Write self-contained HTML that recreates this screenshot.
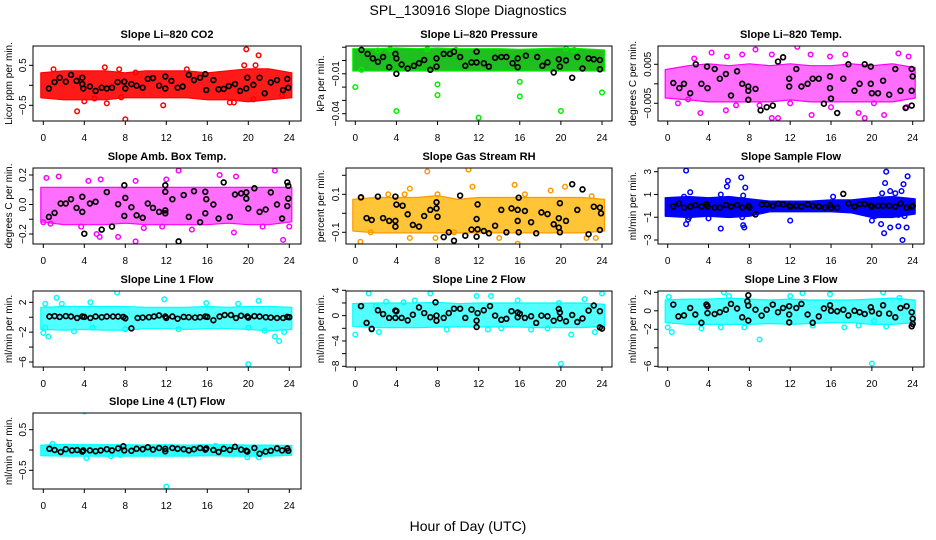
<!DOCTYPE html>
<html><head><meta charset="utf-8"><title>SPL_130916 Slope Diagnostics</title>
<style>
html,body{margin:0;padding:0;background:#fff;}
svg{display:block;font-family:"Liberation Sans",Arial,sans-serif;}
</style></head>
<body>
<svg id="chart" width="936" height="540" viewBox="0 0 936 540" xmlns="http://www.w3.org/2000/svg">
<rect width="936" height="540" fill="#fff"/>
<text x="468" y="15" font-size="14" text-anchor="middle">SPL_130916  Slope Diagnostics</text>
<text x="468" y="531" font-size="14" text-anchor="middle">Hour of Day (UTC)</text>
</svg>
<script>
// ---------- data (hours, values) ----------
const xTicks = [0,4,8,12,16,20,24];
const bandHours = [0,2,4,6,8,10,12,14,16,18,20,22,24];

// P1 CO2
const co2BandHi = [0.25,0.3,0.3,0.3,0.25,0.3,0.3,0.3,0.25,0.3,0.35,0.35,0.25];
const co2BandLo = [-0.25,-0.3,-0.3,-0.3,-0.25,-0.25,-0.25,-0.25,-0.3,-0.3,-0.35,-0.3,-0.25];
const co2Scatter = [[3.3,-0.65],[8,-0.85],[4,-0.4],[6.2,-0.45],[11.7,-0.5],[19.8,0.9],[21,0.75],[19.6,0.5],[20.7,0.5],[7.4,0.4],[18.2,-0.43],[18.6,-0.43],[5,-0.33],[7.6,-0.3],[14,0.4],[6,0.45],[1,0.4],[9,0.32],[20.5,-0.35],[23.3,-0.25]];
const co2Black = [[0.55,-0.08],[1.1,0.08],[1.6,0.19],[2.2,0.09],[2.7,0.26],[3.25,0.11],[3.8,0.19],[3.9,-0.08],[3.8,0.03],[4.55,-0.03],[5.1,-0.14],[5.7,-0.06],[6.2,-0.08],[6.7,-0.06],[7.25,0.08],[7.9,0.09],[8,-0.08],[8.6,0.03],[9.1,-0.01],[9.7,-0.06],[10.2,0.16],[10.7,0.18],[11.3,-0.01],[11.9,0.22],[11.9,-0.08],[12.5,0.11],[13.1,-0.06],[13.6,-0.03],[14.2,0.26],[14.7,0.13],[15.3,0.19],[15.8,0.28],[15.9,-0.12],[16.6,0.13],[17.1,-0.1],[17.6,-0.09],[18.1,-0.02],[18.7,0.03],[19.2,-0.14],[19.8,-0.08],[19.9,0.19],[20.5,0.01],[21.1,0.19],[21.6,-0.2],[22.2,0.07],[22.8,0.13],[23.4,-0.12],[23.8,0.16],[23.9,-0.06]];

// P2 Pressure
const presBandHi = [0.007,0.007,0.0075,0.007,0.0075,0.007,0.007,0.007,0.0065,0.007,0.0075,0.007,0.006];
const presBandLo = [-0.006,-0.006,-0.006,-0.006,-0.006,-0.006,-0.006,-0.006,-0.006,-0.006,-0.006,-0.006,-0.006];
const presScatter = [[0,-0.02],[4,-0.038],[8,-0.018],[8,-0.026],[12,-0.043],[16,-0.016],[16,-0.027],[20,-0.038],[24,-0.024],[3.4,0.0085],[7,0.0085],[20.5,0.009],[2.2,0.0075],[9.8,0.008],[0.6,-0.007],[21.3,0.008]];
const presBlack = [[0.6,0.008],[1.2,0.005],[1.7,0.0016],[2.2,-0.001],[2.7,0.0026],[3.3,-0.005],[3.9,0.005],[4,-0.01],[4,0.0016],[4.5,-0.003],[5.1,-0.006],[5.7,-0.004],[6.2,-0.002],[6.7,0.0004],[7.3,-0.007],[7.9,0.0016],[7.9,-0.0046],[8.6,0.005],[9.2,0.005],[9.6,0.0066],[10.2,0.0026],[10.7,-0.004],[11.3,-0.0014],[11.8,0.0066],[11.8,-0.0014],[12.5,-0.002],[13,-0.0046],[13.6,0.002],[14.2,0.0026],[14.7,0.0026],[15.3,-0.002],[15.8,0.0016],[15.8,-0.005],[16.6,0.0036],[17.7,0.0026],[18.2,-0.004],[18.7,-0.0014],[19.3,-0.009],[19.8,0.0009],[19.9,-0.0046],[20.5,0.0001],[21.1,-0.013],[21.6,0.0026],[22.1,-0.006],[22.7,0.0016],[23.2,0.0009],[23.8,0.0004],[23.8,-0.0066]];

// P3 Li-820 Temp
const tempBandHi = [0.003,0.004,0.0045,0.004,0.0045,0.004,0.0045,0.004,0.004,0.0045,0.004,0.0045,0.0035];
const tempBandLo = [-0.003,-0.0035,-0.004,-0.004,-0.004,-0.004,-0.0035,-0.004,-0.004,-0.004,-0.004,-0.004,-0.003];
const tempScatter = [[4.3,0.008],[8.6,0.0088],[12.7,0.0095],[2.6,0.0065],[5.8,0.007],[7.3,0.0075],[10.2,0.0075],[14,0.0075],[15.9,0.007],[17.4,0.0075],[22.6,0.0078],[23.6,0.007],[3.2,-0.0075],[10.2,-0.0088],[10.8,-0.0088],[14.1,-0.008],[19.3,-0.0088],[18.7,-0.0075],[21.2,-0.008],[5.7,-0.0068],[1,-0.005],[16,-0.006],[6.7,-0.0055],[12,-0.005],[20.2,-0.005],[23.4,-0.006],[2,-0.004],[9,-0.0055]];
const tempBlack = [[0.55,0.0002],[1.15,-0.0011],[1.6,0],[2.2,-0.0024],[2.75,0.005],[3.3,0],[3.85,0.0044],[3.9,-0.0011],[4.6,0.0038],[5.1,0.0013],[5.7,0.0025],[6.2,-0.003],[6.8,0.0032],[7.3,0],[7.9,-0.0007],[7.9,-0.0018],[7.9,-0.0041],[8.6,-0.0013],[9.1,-0.0068],[9.7,-0.006],[10.3,-0.0056],[10.8,0.0057],[11.3,0.0068],[11.9,0.0013],[11.9,-0.0007],[12.6,0.0038],[13.1,-0.0007],[13.7,0],[14.2,0.0013],[14.8,0.0013],[15.3,-0.0051],[15.9,0.0019],[15.9,-0.0011],[16,-0.0038],[16.6,-0.0075],[17.2,0.0013],[17.7,0.005],[18.3,-0.0018],[18.8,0],[19.3,0.005],[19.9,0.0044],[19.9,0],[20,-0.0024],[20.6,-0.0024],[21.1,0.0008],[21.7,-0.0028],[22.3,0.0038],[22.8,-0.0018],[23.3,-0.0062],[23.9,0.0038],[24,0.0019],[23.9,-0.0018],[23.9,-0.0056]];

// P4 Amb Box Temp
const ambBandHi = [0.1,0.1,0.1,0.1,0.1,0.1,0.1,0.1,0.1,0.1,0.1,0.1,0.1];
const ambBandLo = [-0.1,-0.12,-0.12,-0.12,-0.11,-0.12,-0.12,-0.12,-0.12,-0.11,-0.12,-0.12,-0.1];
const ambScatter = [[0.3,0.18],[1.5,0.19],[4.4,0.16],[5.6,0.17],[9,0.16],[12,0.17],[13.2,0.23],[17.2,0.2],[18.8,0.19],[22.6,0.23],[0,-0.12],[0.7,-0.13],[3.7,-0.15],[5.2,-0.2],[5.5,-0.22],[7.3,-0.22],[9,-0.25],[11.6,-0.15],[14.5,-0.17],[18.6,-0.19],[23.4,-0.24],[24,-0.15],[21.4,-0.15],[9.8,-0.16]];
const ambBlack = [[0.55,-0.084],[1.1,-0.057],[1.7,0.007],[2.2,0.007],[2.7,0.036],[3.25,-0.023],[3.8,0.052],[3.8,-0.05],[4,-0.198],[4.55,0.007],[5.1,0.018],[5.7,-0.17],[6.2,0.084],[6.7,-0.15],[7.3,0.002],[7.9,0.13],[7.9,-0.077],[8,0.045],[8.6,-0.018],[9.1,-0.073],[9.7,-0.09],[10.2,0.007],[10.7,-0.023],[11.3,-0.05],[11.9,0.13],[11.9,0.086],[11.9,-0.04],[11.9,-0.06],[12.6,0.036],[13.2,-0.25],[13.7,0.064],[14.2,-0.084],[14.7,0.09],[15.3,-0.12],[15.8,0.086],[15.8,-0.06],[15.9,0.036],[16.6,0],[17.1,-0.095],[17.6,0.15],[18.2,-0.084],[18.7,0.068],[19.3,0.075],[19.8,0.082],[19.8,0.04],[20,-0.027],[20.6,0.11],[21.1,-0.05],[21.7,-0.034],[22.2,0.082],[22.8,0],[23.3,-0.095],[23.8,0.15],[23.9,0.127],[23.9,0.04],[23.8,-0.011]];

// P5 Gas Stream RH
const rhBandHi = [0.06,0.07,0.07,0.07,0.08,0.06,0.07,0.07,0.07,0.07,0.07,0.07,0.06];
const rhBandLo = [-0.08,-0.09,-0.09,-0.09,-0.09,-0.09,-0.09,-0.09,-0.09,-0.09,-0.09,-0.09,-0.08];
const rhScatter = [[0.5,-0.15],[7,0.22],[11,0.23],[11.4,0.14],[15.5,0.15],[5.3,0.13],[3.2,0.1],[0.5,0.08],[4.8,0.1],[8,0.1],[15.8,-0.16],[14,-0.13],[7.8,-0.13],[5.3,-0.13],[22.5,-0.13],[23.4,-0.13],[19,0.12],[20.4,0.14],[23,0.09],[9.6,-0.1],[16.5,0.1],[1.5,-0.1]];
const rhBlack = [[0.55,0.084],[1.1,-0.025],[1.6,-0.035],[2.2,0.088],[2.7,-0.025],[3.3,-0.04],[3.9,-0.04],[3.9,0.088],[3.9,-0.07],[4,0.046],[4.6,0.04],[5.1,-0.005],[5.6,-0.061],[6.2,-0.07],[6.7,-0.014],[7.3,0.018],[7.9,0.058],[7.9,0.026],[8,-0.018],[8.6,-0.125],[9.1,-0.1],[9.6,-0.144],[10.2,0.093],[10.7,-0.118],[11.3,-0.086],[11.8,-0.03],[11.8,-0.123],[11.9,0.047],[11.9,-0.084],[12.5,-0.093],[13,-0.105],[13.6,-0.065],[14.2,0.018],[14.7,-0.1],[15.2,0.026],[15.8,0.018],[15.8,-0.04],[15.9,-0.1],[15.9,0.082],[16.5,0.012],[17.1,-0.047],[17.6,-0.105],[18.1,0.005],[18.7,-0.004],[19.3,-0.058],[19.8,-0.026],[19.8,-0.075],[19.9,-0.1],[19.9,0.053],[20.5,-0.04],[21.1,0.153],[21.6,0.018],[22.1,0.126],[22.7,-0.11],[23.2,0.035],[23.8,0.03],[23.9,0],[23.8,-0.088]];

// P6 Sample Flow
const sampBandHi = [0.5,0.6,0.5,0.6,0.4,0.2,0.2,0.2,0.3,0.3,0.5,0.6,0.4];
const sampBandLo = [-0.7,-0.8,-0.7,-0.8,-0.7,-0.3,-0.3,-0.3,-0.3,-0.4,-0.8,-0.8,-0.5];
const sampScatter = [[1.8,3.1],[1.8,-1.6],[2.2,1.2],[2,-1.2],[2.1,-1],[1.6,0.8],[4,-1.1],[5.2,-2],[5.2,1],[5.8,1.7],[5.9,2.2],[7.2,2.5],[7.6,1.6],[7.4,0.9],[7.3,-1],[7.4,-1.7],[7.5,-1.9],[12,-1.3],[16.2,0.8],[20,-1.3],[20.3,-0.9],[20.7,0.6],[21,1.1],[20.9,-1.6],[21.2,-2.4],[21.4,3],[21.3,2],[21.8,1.3],[21.8,-1.9],[22.3,1.1],[22.6,-1.8],[22.9,1.3],[23.1,1.9],[23,-3],[23.4,-1.9],[23.5,2.6],[23.2,-0.9],[22.6,-0.8],[0.2,-0.7],[1.2,0.5]];
const sampBlack = [[0.55,-0.07],[1.1,0.2],[1.6,-0.15],[2.2,-0.07],[2.7,0.07],[3.3,-0.07],[3.8,0.13],[3.9,-0.07],[4.6,-0.15],[5.1,-0.15],[5.7,0.07],[6.2,-0.07],[6.8,0.07],[7.3,-0.15],[7.9,0],[8,-0.15],[8.6,-0.75],[9.2,0.13],[9.7,0.13],[10.3,0],[10.8,0.2],[11.3,0.13],[11.9,0],[12,-0.07],[12.6,0],[13.1,-0.07],[13.7,0.13],[14.2,0],[14.8,-0.07],[15.4,-0.15],[15.9,0.07],[16,-0.15],[16.6,-0.15],[17.2,1.05],[17.7,0.2],[18.3,-0.07],[18.8,0.15],[19.3,0.15],[19.9,0],[20,-0.07],[20.6,0],[21.1,0],[21.7,0],[22.3,-0.07],[22.8,0.2],[23.4,-0.15],[23.9,-0.07],[24,0]];

// P7 Line 1 Flow
const l1BandHi = [1.0,1.1,1.1,1.1,1.1,1.0,1.0,1.0,1.1,1.0,1.1,1.1,1.0];
const l1BandLo = [-1.3,-1.4,-1.3,-1.4,-1.4,-1.2,-1.2,-1.3,-1.2,-1.2,-1.3,-1.5,-1.3];
const l1Scatter = [[0.2,1.8],[0,-2.1],[0.5,-2.6],[1.3,2.6],[1.8,1.8],[3,-1.9],[4.6,2],[7.2,3.3],[11.8,2.4],[15.9,1.9],[19,1.8],[21,2.2],[22.6,-2.6],[23,-3.2],[23.5,-2],[20,-6.3],[20,-1.4],[21.6,-1.8],[8,-1.6],[13.2,-1.6],[0.2,-1.4],[4.8,-1.4]];
const l1BlackHours = [0.6,1.1,1.6,2.2,2.7,3.3,3.8,4.0,4.6,5.1,5.7,6.2,6.8,7.3,7.8,8.0,8.6,9.2,9.7,10.3,10.8,11.3,11.9,12.0,12.6,13.1,13.7,14.2,14.8,15.3,15.8,16.0,16.6,17.2,17.7,18.3,18.8,19.3,19.9,20.0,20.6,21.1,21.7,22.2,22.8,23.4,23.8,24.0];
const l1BlackValues = [0.1,0.15,0.05,0.15,0.1,-0.1,0.1,0.05,-0.1,0.1,0,0.1,0.1,0.1,0.05,-0.15,-1.5,-0.1,-0.05,0,0.1,0.25,0.1,-0.1,0.1,-0.2,0.05,0,-0.05,0,0.1,0.05,-0.4,0.1,0.3,0.3,-0.1,0.2,0.1,-0.05,0.15,0.1,0,-0.05,-0.1,-0.1,0.05,0];

// P8 Line 2 Flow
const l2BandHi = [1.5,1.6,1.6,1.6,1.7,1.5,1.6,1.6,1.6,1.6,1.6,1.6,1.4];
const l2BandLo = [-1.3,-1.5,-1.5,-1.5,-1.4,-1.4,-1.4,-1.4,-1.4,-1.5,-1.5,-1.5,-1.3];
const l2Scatter = [[0,-3],[1.3,3.5],[1.6,-2.2],[2.3,-2.6],[3,2.2],[4.7,2.1],[5.8,2.4],[7.3,3.5],[8.9,-2.2],[11.8,3.1],[12.9,-2.2],[13.2,3.1],[15.8,2.4],[17.1,-2.2],[18.7,-2],[21,-3],[22.3,2.6],[23.3,-2.6],[24,3.5],[20,-7.6],[19.8,2],[2,1.5],[14.2,-2]];
const l2Black = [[0.55,1.5],[1.1,-1.15],[1.6,-2.1],[2.2,0.85],[2.7,0.25],[3.3,-0.35],[3.9,0.8],[3.9,-0.35],[4,0.7],[4.5,-0.35],[5.1,-0.75],[5.6,0.15],[6.2,1.3],[6.7,0.4],[7.3,-0.25],[7.8,2.1],[7.9,-0.8],[7.9,0],[8.6,-0.35],[9.1,0.4],[9.6,1.1],[10.2,1.1],[10.7,-0.35],[11.3,0.95],[11.8,-0.8],[11.8,-1.8],[11.9,0.4],[12.5,0.85],[13.1,1.5],[13.6,0],[14.2,-0.65],[14.7,-0.5],[15.2,0.7],[15.8,0.5],[15.8,-0.25],[16,0.3],[16.5,-0.35],[17.1,-0.1],[17.6,-1.15],[18.1,0],[18.7,-0.1],[19.3,-0.8],[19.8,1.05],[19.9,0.5],[19.9,-0.45],[20.5,-0.9],[21.1,0.1],[21.6,-1],[22.1,-0.45],[22.7,0.8],[23.2,1.6],[23.8,0.7],[23.8,-1.85],[24,-2.05]];

// P9 Line 3 Flow
const l3BandHi = [0.9,1.0,1.0,1.1,1.0,0.9,1.0,0.9,0.9,0.9,1.0,1.1,0.9];
const l3BandLo = [-1.0,-1.2,-1.2,-1.2,-1.2,-1.1,-1.2,-1.1,-1.0,-1.0,-1.2,-1.2,-1.0];
const l3Scatter = [[0,-1.8],[0.1,1.5],[0.4,-2.3],[3.3,-1.9],[5.5,2],[6,1.6],[5.2,-1.8],[9,-3.1],[13.2,1.9],[14.2,-1.6],[15.9,1.8],[17.3,-1.8],[18.7,-1.6],[20,-5.7],[21.1,2],[21.4,-1.7],[22.7,1.4],[7.5,-1.8],[12,1.6],[20.2,-1.1]];
const l3Black = [[0.55,0.67],[1.05,-0.6],[1.6,-0.5],[2.2,0.3],[2.7,-0.4],[3.3,-1.3],[3.8,0.67],[3.9,0.5],[3.9,-0.25],[4.6,-0.35],[5.1,-0.15],[5.7,0.12],[6.2,0.75],[6.8,0.25],[7.3,-0.7],[7.8,1.03],[7.9,1.68],[7.9,0.56],[7.9,-1.06],[8.6,0.12],[9.2,-0.52],[9.7,0.12],[10.3,0.67],[10.8,-0.15],[11.3,0.3],[11.9,0.5],[11.9,-0.4],[11.9,-1.25],[12.6,0.3],[13.1,0.75],[13.7,-0.4],[14.2,-1.3],[14.8,-0.6],[15.3,0.25],[15.9,0.6],[16,0],[16.6,-0.05],[17.2,0.12],[17.7,-0.5],[18.3,0],[18.8,-0.15],[19.3,-0.35],[19.9,0.38],[20,-0.05],[20.7,-0.3],[21.1,0.6],[21.7,-0.3],[22.3,-0.7],[22.8,0.3],[23.4,0.5],[23.9,-0.15],[24,-0.85],[24,-1.42],[23.9,-1.68]];

// P10 Line 4 (LT) Flow
const l4BandHi = [0.06,0.08,0.07,0.07,0.07,0.06,0.07,0.06,0.07,0.07,0.06,0.06,0.05];
const l4BandLo = [-0.08,-0.09,-0.09,-0.09,-0.09,-0.09,-0.09,-0.09,-0.08,-0.09,-0.09,-0.09,-0.07];
const l4Scatter = [[4,0.95],[12,-0.9],[4.2,-0.2],[19.9,-0.18],[0.9,0.15],[6.6,-0.15],[7.5,-0.12],[21,-0.18],[16.8,0.1]];
const l4Black = [[0.6,0.03],[1.1,0],[1.7,-0.05],[2.2,0.02],[2.8,-0.01],[3.3,0],[3.8,-0.04],[3.9,-0.01],[4.55,-0.01],[5.1,-0.03],[5.6,-0.01],[6.2,0.02],[6.7,-0.01],[7.3,0.04],[7.8,0.09],[7.9,-0.01],[8.6,-0.02],[9.1,0.03],[9.7,0.02],[10.2,0.07],[10.7,0.01],[11.3,0.05],[11.9,0.03],[11.9,-0.03],[12.6,0.05],[13.1,0.03],[13.7,0.02],[14.2,-0.01],[14.7,0.02],[15.3,0.05],[15.8,0.01],[15.9,0.04],[16.6,0],[17.1,-0.05],[17.6,0.03],[18.2,0],[18.7,0.08],[19.3,0.01],[19.8,-0.02],[19.9,-0.04],[20.6,0.05],[21.1,-0.09],[21.7,-0.04],[22.2,-0.02],[22.8,0.04],[23.3,-0.01],[23.8,0.04],[23.9,-0.02]];

function zip(h, v){ return h.map((x,i)=>[x, v[i]]); }

// ---------- layout (geometry, not data) ----------
const COLS = [{l:33,r:301,x0:43.3,x24:289.3,yt:8},{l:346,r:612,x0:355.3,x24:602,yt:320},{l:658,r:924,x0:667.7,x24:912.7,yt:632}];
const ROWS = [{t:46,b:121},{t:168,b:244},{t:291,b:367},{t:413,b:489}];

const panels = [
 {name:'co2',title:'Slope Li\u2013820 CO2',ylab:'Licor ppm per min.',c:0,r:0,ya:[0.5,65.3],yb:[-0.5,105.3],ticks:[-0.5,0,0.5],labels:['\u22120.5','','0.5'],
  fill:'#ff1a1a',op:1,stroke:'#ff0000',hi:co2BandHi,lo:co2BandLo,sc:co2Scatter,bk:co2Black},
 {name:'pressure',title:'Slope Li\u2013820 Pressure',ylab:'kPa per min.',c:1,r:0,ya:[0,60.5],yb:[-0.04,113.7],ticks:[0.01,0,-0.01,-0.02,-0.03,-0.04],labels:['','','\u22120.01','','','\u22120.04'],
  fill:'#1fbf1f',op:1,stroke:'#00ee00',hi:presBandHi,lo:presBandLo,sc:presScatter,bk:presBlack},
 {name:'li820-temp',title:'Slope Li\u2013820 Temp.',ylab:'degrees C per min.',c:2,r:0,ya:[0.005,64.3],yb:[-0.005,103.3],ticks:[-0.005,0,0.005],labels:['\u22120.005','','0.005'],
  fill:'#ff55ff',op:0.85,stroke:'#ff00ff',hi:tempBandHi,lo:tempBandLo,sc:tempScatter,bk:tempBlack},
 {name:'amb-box-temp',title:'Slope Amb. Box Temp.',ylab:'degrees C per min.',c:0,r:1,ya:[0.2,175],yb:[-0.2,234],ticks:[-0.2,-0.1,0,0.1,0.2],labels:['\u22120.2','','0.0','','0.2'],
  fill:'#ff55ff',op:0.85,stroke:'#ff00ff',hi:ambBandHi,lo:ambBandLo,sc:ambScatter,bk:ambBlack},
 {name:'gas-stream-rh',title:'Slope Gas Stream RH',ylab:'percent per min.',c:1,r:1,ya:[0.1,194.3],yb:[-0.1,232.3],ticks:[-0.1,0,0.1,0.2],labels:['\u22120.1','','0.1',''],
  fill:'#ffbf20',op:0.9,stroke:'#ff9900',hi:rhBandHi,lo:rhBandLo,sc:rhScatter,bk:rhBlack},
 {name:'sample-flow',title:'Slope Sample Flow',ylab:'ml/min per min.',c:2,r:1,ya:[3,171.7],yb:[-3,240],ticks:[-3,-1,1,3],labels:['\u22123','\u22121','1','3'],
  fill:'#0000ff',op:1,stroke:'#0000ff',hi:sampBandHi,lo:sampBandLo,sc:sampScatter,bk:sampBlack},
 {name:'line1-flow',title:'Slope Line 1 Flow',ylab:'ml/min per min.',c:0,r:2,ya:[2,302.3],yb:[-6,362],ticks:[-6,-4,-2,0,2],labels:['\u22126','','\u22122','','2'],
  fill:'#33ffff',op:0.85,stroke:'#00ffff',hi:l1BandHi,lo:l1BandLo,sc:l1Scatter,bk:zip(l1BlackHours,l1BlackValues)},
 {name:'line2-flow',title:'Slope Line 2 Flow',ylab:'ml/min per min.',c:1,r:2,ya:[4,290.3],yb:[-8,366.3],ticks:[-8,-6,-4,-2,0,2,4],labels:['\u22128','','\u22124','','0','','4'],
  fill:'#33ffff',op:0.85,stroke:'#00ffff',hi:l2BandHi,lo:l2BandLo,sc:l2Scatter,bk:l2Black},
 {name:'line3-flow',title:'Slope Line 3 Flow',ylab:'ml/min per min.',c:2,r:2,ya:[2,292.3],yb:[-6,366.3],ticks:[-6,-4,-2,0,2],labels:['\u22126','','\u22122','0','2'],
  fill:'#33ffff',op:0.85,stroke:'#00ffff',hi:l3BandHi,lo:l3BandLo,sc:l3Scatter,bk:l3Black},
 {name:'line4-flow',title:'Slope Line 4 (LT) Flow',ylab:'ml/min per min.',c:0,r:3,ya:[0.5,429.7],yb:[-0.5,470.3],ticks:[-0.5,0,0.5],labels:['\u22120.5','','0.5'],
  fill:'#22ffff',op:0.95,stroke:'#00ffff',hi:l4BandHi,lo:l4BandLo,sc:l4Scatter,bk:l4Black}
];

const NS = 'http://www.w3.org/2000/svg';
const svg = document.getElementById('chart');
function mk(tag, attrs, parent){
  const e = document.createElementNS(NS, tag);
  for (const k in attrs) e.setAttribute(k, attrs[k]);
  (parent||svg).appendChild(e);
  return e;
}

panels.forEach(p => {
  const C = COLS[p.c], R = ROWS[p.r];
  const xs = h => C.x0 + (C.x24 - C.x0) * h / 24;
  const ys = v => p.ya[1] + (v - p.ya[0]) * (p.yb[1] - p.ya[1]) / (p.yb[0] - p.ya[0]);

  const g = mk('g', {});
  
  

  const clipId = 'clip-' + p.name;
  const cp = mk('clipPath', {id: clipId}, g);
  mk('rect', {x: C.l, y: R.t, width: C.r - C.l, height: R.b - R.t}, cp);

  const plot = mk('g', {'clip-path': 'url(#' + clipId + ')'}, g);
  
  

  let pts = [];
  bandHours.forEach((h, i) => pts.push((xs(h) + (i===0?-2.5:i===bandHours.length-1?2.5:0)).toFixed(1) + ',' + (ys(p.hi[i]) - 2.5).toFixed(1)));
  for (let i = bandHours.length - 1; i >= 0; i--) pts.push((xs(bandHours[i]) + (i===0?-2.5:i===bandHours.length-1?2.5:0)).toFixed(1) + ',' + (ys(p.lo[i]) + 2.5).toFixed(1));
  const band = mk('polygon', {points: pts.join(' '), fill: p.fill, 'fill-opacity': p.op, stroke: p.stroke, 'stroke-width': 1.2, 'stroke-linejoin': 'round'}, plot);
  
  

  p.sc.forEach(d => {
    const c = mk('circle', {cx: xs(d[0]).toFixed(1), cy: ys(d[1]).toFixed(1), r: 2.3, fill: 'none', stroke: p.stroke, 'stroke-width': 1.5}, plot);
    
    
  });
  p.bk.forEach(d => {
    const c = mk('circle', {cx: xs(d[0]).toFixed(1), cy: ys(d[1]).toFixed(1), r: 2.4, fill: 'none', stroke: '#000', 'stroke-width': 1.7}, plot);
    
    
  });

  const box = mk('rect', {x: C.l, y: R.t, width: C.r - C.l, height: R.b - R.t, fill: 'none', stroke: '#000', 'stroke-width': 1}, g);
  
  

  xTicks.forEach(t => {
    const x = xs(t);
    mk('line', {x1: x, y1: R.b, x2: x, y2: R.b + 4, stroke: '#000'}, g);
    const tl = mk('text', {x: x, y: R.b + 20, 'font-size': 10, 'text-anchor': 'middle'}, g);
    tl.textContent = t;
    
    
  });
  p.ticks.forEach((t, i) => {
    const y = ys(t);
    mk('line', {x1: C.l - 4, y1: y, x2: C.l, y2: y, stroke: '#000'}, g);
    if (p.labels[i]) {
      const tx = C.l - 7;
      const tl = mk('text', {x: tx, y: y, 'font-size': 10, 'text-anchor': 'middle', transform: 'rotate(-90 ' + tx + ' ' + y + ')'}, g);
      tl.textContent = p.labels[i];
      
      
    }
  });

  const title = mk('text', {x: (C.l + C.r) / 2, y: R.t - 8, 'font-size': 11, 'font-weight': 'bold', 'text-anchor': 'middle'}, g);
  title.textContent = p.title;
  
  

  const ym = (R.t + R.b) / 2;
  const yl = mk('text', {x: C.yt + 4, y: ym, 'font-size': 10, 'text-anchor': 'middle', transform: 'rotate(-90 ' + (C.yt + 4) + ' ' + ym + ')'}, g);
  yl.textContent = p.ylab;
  
  
});
</script>
</body></html>
